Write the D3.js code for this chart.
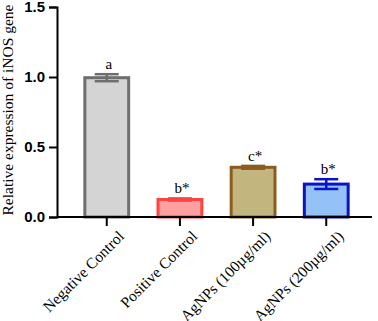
<!DOCTYPE html>
<html>
<head>
<meta charset="utf-8">
<script src="https://cdn.jsdelivr.net/npm/d3@7"></script>
<style>
  body { margin: 0; background: #fff; }
  .y-axis text { font-family: "Liberation Sans", Arial, sans-serif; font-weight: bold; font-size: 15px; fill: #000; }
  .x-axis text { font-family: "Liberation Serif", "Times New Roman", serif; font-size: 15.5px; fill: #000; }
</style>
</head>
<body>
<div id="container"></div>
<script>
/* CONSTANTS AND GLOBALS */
const width = 378,
  height = 321,
  margin = { top: 7, bottom: 104, left: 57, right: 2 };

const groups = ["Negative Control", "Positive Control", "AgNPs (100µg/ml)", "AgNPs (200µg/ml)"];
const means = [0.995, 0.125, 0.355, 0.235];
const errors = [0.025, 0.008, 0.01, 0.035];
const letters = ["a", "b*", "c*", "b*"];
const fills = ["#d4d4d4", "#ffa0a0", "#c2b57e", "#94c2f7"];
const strokes = ["#6e6e6e", "#ff4242", "#8c5c1e", "#0a14c8"];
const yTicks = [0, 0.5, 1.0, 1.5];

const data = groups.map((g, i) => ({
  group: g, mean: means[i], err: errors[i], letter: letters[i], fill: fills[i], stroke: strokes[i]
}));

const svg = d3.select("#container")
  .append("svg")
  .attr("width", width)
  .attr("height", height);

/* SCALES */
const xScale = d3.scaleBand()
  .domain(groups)
  .range([margin.left, width - margin.right])
  .paddingInner(0.36)
  .paddingOuter(0.36);

const yScale = d3.scaleLinear()
  .domain([0, 1.5])
  .range([height - margin.bottom, margin.top]);

const bw = xScale.bandwidth();
const capW = 24;

/* BARS */
svg.selectAll(".bar")
  .data(data)
  .join("rect")
  .attr("class", "bar")
  .attr("x", d => xScale(d.group) + 1.5)
  .attr("y", d => yScale(d.mean))
  .attr("width", bw - 3)
  .attr("height", d => yScale(0) - yScale(d.mean))
  .attr("fill", d => d.fill)
  .attr("stroke", d => d.stroke)
  .attr("stroke-width", 3);

/* ERROR BARS */
const eb = svg.selectAll(".err")
  .data(data)
  .join("g")
  .attr("class", "err")
  .attr("stroke", d => d.stroke)
  .attr("stroke-width", 2.5);

eb.append("line")
  .attr("x1", d => xScale(d.group) + bw / 2)
  .attr("x2", d => xScale(d.group) + bw / 2)
  .attr("y1", d => yScale(d.mean - d.err))
  .attr("y2", d => yScale(d.mean + d.err));

eb.append("line")
  .attr("x1", d => xScale(d.group) + bw / 2 - capW / 2)
  .attr("x2", d => xScale(d.group) + bw / 2 + capW / 2)
  .attr("y1", d => yScale(d.mean + d.err))
  .attr("y2", d => yScale(d.mean + d.err));

eb.append("line")
  .attr("x1", d => xScale(d.group) + bw / 2 - capW / 2)
  .attr("x2", d => xScale(d.group) + bw / 2 + capW / 2)
  .attr("y1", d => yScale(d.mean - d.err))
  .attr("y2", d => yScale(d.mean - d.err));

/* LETTERS */
svg.selectAll(".letter")
  .data(data)
  .join("text")
  .attr("class", "letter")
  .attr("x", d => xScale(d.group) + bw / 2 + 2)
  .attr("y", d => yScale(d.mean + d.err) - 5)
  .attr("text-anchor", "middle")
  .style("font-family", "'Liberation Serif', 'Times New Roman', serif")
  .style("font-size", "15px")
  .text(d => d.letter);

/* AXES */
const yAxis = svg.append("g")
  .attr("class", "y-axis")
  .attr("transform", `translate(${margin.left}, 0)`)
  .call(d3.axisLeft(yScale).tickValues(yTicks).tickFormat(d3.format(".1f")).tickSizeOuter(0).tickSize(8).tickPadding(4));

yAxis.selectAll("path, line").attr("stroke", "#000").attr("stroke-width", 2);

const xAxis = svg.append("g")
  .attr("class", "x-axis")
  .attr("transform", `translate(0, ${yScale(0)})`)
  .call(d3.axisBottom(xScale).tickSizeOuter(0).tickSize(9));

xAxis.select(".domain").attr("d", `M${margin.left},0H${width - 6}`);
xAxis.selectAll("path, line").attr("stroke", "#000").attr("stroke-width", 2);

xAxis.selectAll("text")
  .attr("text-anchor", "end")
  .attr("transform", "translate(6, 8) rotate(-45)")
  .attr("dy", "0.35em");

/* Y LABEL */
svg.append("text")
  .attr("transform", `translate(13, 110) rotate(-90)`)
  .attr("text-anchor", "middle")
  .style("font-family", "'Liberation Serif', 'Times New Roman', serif")
  .style("font-size", "15.5px")
  .text("Relative expression of iNOS gene");
</script>
</body>
</html>
